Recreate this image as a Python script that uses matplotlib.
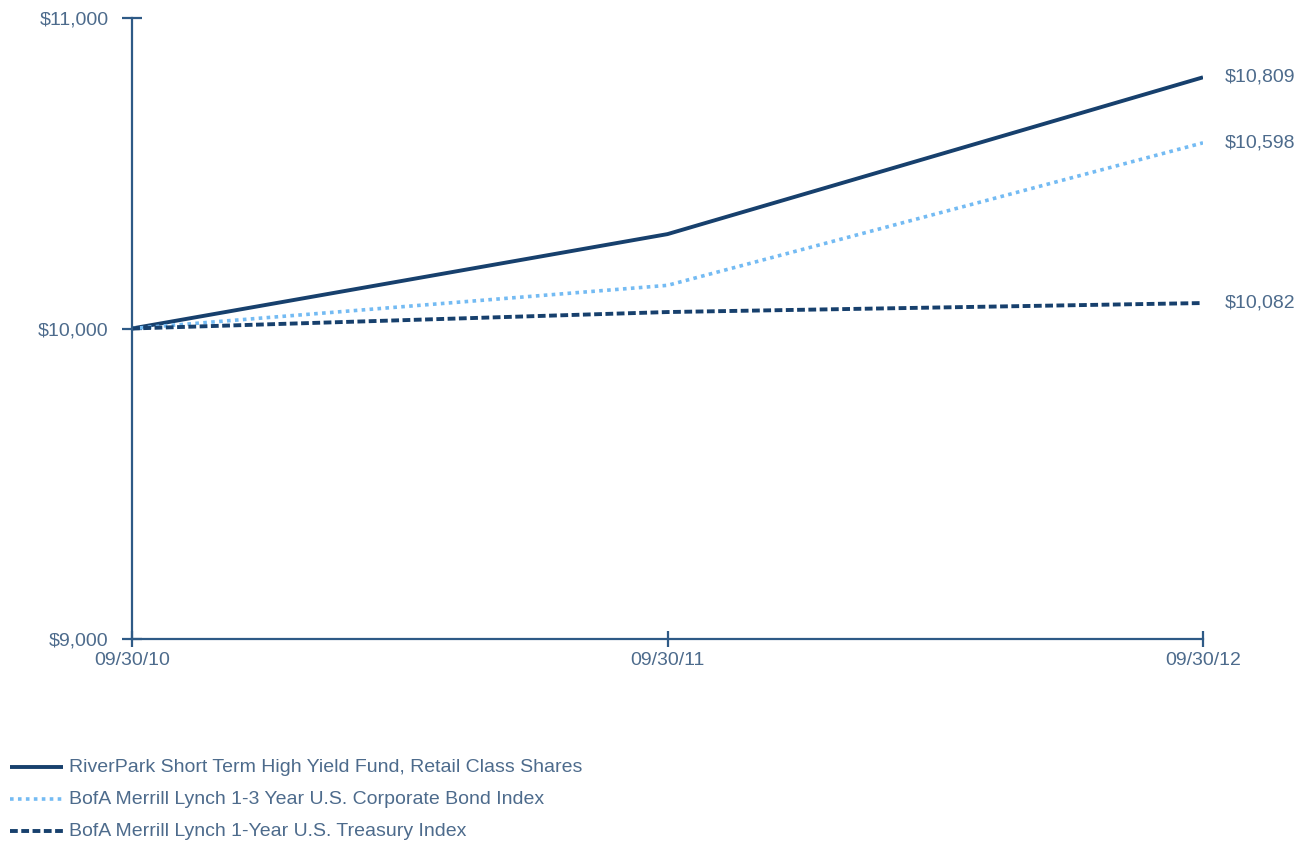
import matplotlib
matplotlib.use("Agg")
import matplotlib.pyplot as plt
from matplotlib.lines import Line2D
from matplotlib.ticker import FuncFormatter

plt.rcParams['font.family'] = ['Liberation Sans', 'DejaVu Sans']

dates = ["09/30/10", "09/30/11", "09/30/12"]
fund = [10000, 10304, 10809]
corp = [10000, 10139, 10598]
treas = [10000, 10053, 10082]
names = ["RiverPark Short Term High Yield Fund, Retail Class Shares",
         "BofA Merrill Lynch 1-3 Year U.S. Corporate Bond Index",
         "BofA Merrill Lynch 1-Year U.S. Treasury Index"]
yticks = [9000, 10000, 11000]

navy = "#17406d"
light = "#74bbf3"
txt = "#4d6b8c"
axis_c = "#2e5a86"
fs = 14

W, H = 1304, 842
fig = plt.figure(figsize=(W/100, H/100), dpi=100)
ax = fig.add_axes([132/W, (H-639)/H, (1203-132)/W, (639-18)/H])

x = list(range(len(dates)))
styles = [
    dict(color=navy, lw=2.8, ls='-'),
    dict(color=light, lw=2.6, ls=(0, (1, 1.2))),
    dict(color=navy, lw=2.8, ls=(0, (2.0, 0.9))),
]
for series, st in zip([fund, corp, treas], styles):
    ax.plot(x, series, solid_capstyle='butt', dash_capstyle='butt', **st)

for series in [fund, corp, treas]:
    ax.text(x[-1] + 0.04, series[-1], "${:,.0f}".format(series[-1]),
            ha='left', va='center', fontsize=fs, color=txt)

ax.set_xlim(0, 2)
ax.set_ylim(9000, 11000)
ax.set_xticks(x)
ax.set_xticklabels(dates)
ax.set_yticks(yticks)
ax.yaxis.set_major_formatter(FuncFormatter(lambda v, p: "${:,.0f}".format(v)))
for s in ['top', 'right']:
    ax.spines[s].set_visible(False)
for s in ['left', 'bottom']:
    ax.spines[s].set_color(axis_c)
    ax.spines[s].set_linewidth(1.6)
ax.tick_params(axis='both', direction='inout', width=1.6, color=axis_c,
               labelcolor=txt, labelsize=fs)
ax.tick_params(axis='y', length=13.7, pad=10)
ax.tick_params(axis='x', length=11, pad=3.6)

# legend
ly = [767, 799, 831]
for name, st, yy in zip(names, styles, ly):
    yf = (H - yy) / H
    fig.add_artist(Line2D([10/W, 63/W], [yf, yf], transform=fig.transFigure,
                          solid_capstyle='butt', dash_capstyle='butt', **st))
    fig.text(69/W, yf, name, ha='left', va='center', fontsize=fs, color=txt)

fig.savefig("out.png", dpi=100)
